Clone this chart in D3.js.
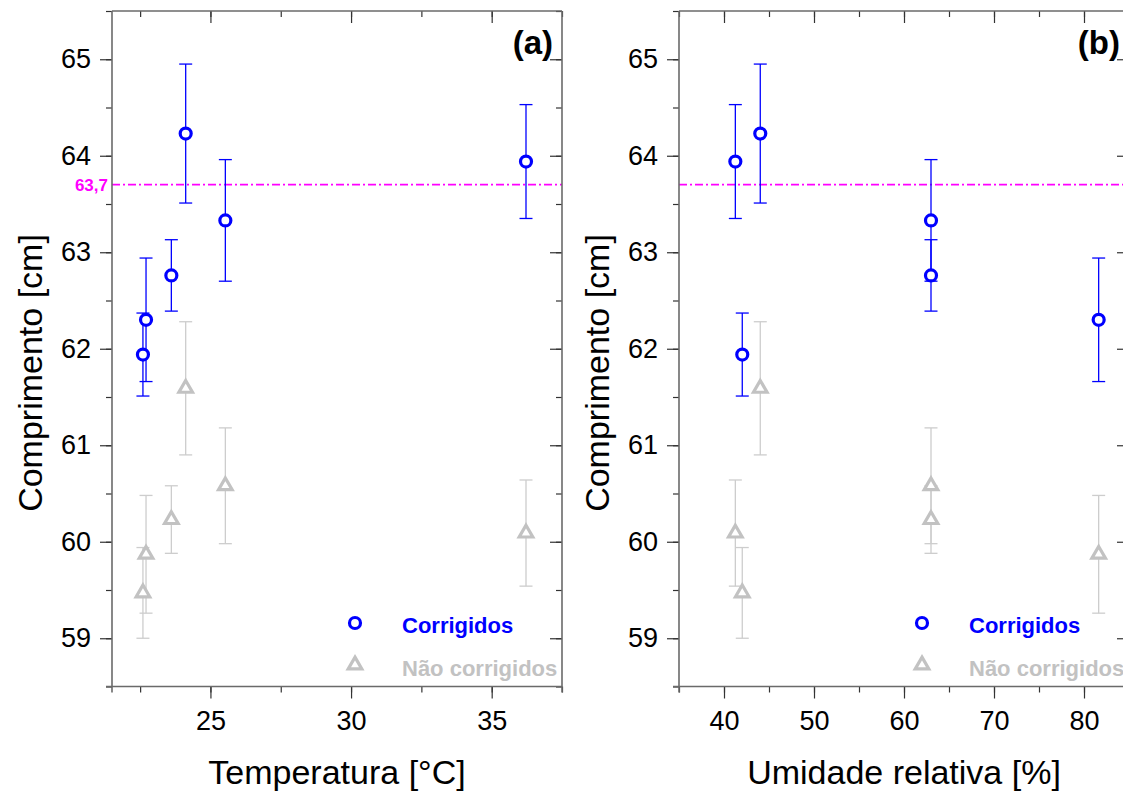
<!DOCTYPE html>
<html>
<head>
<meta charset="utf-8">
<script src="https://cdn.jsdelivr.net/npm/d3@7"></script>
<style>
  body { margin: 0; background: #fff; }
  svg text { font-family: Arial, "Liberation Sans", sans-serif; }
</style>
</head>
<body>
<div id="chart"></div>
<script>
// measurements (same 6 runs, two views)
const temperatura = [22.6, 22.71, 23.61, 24.12, 25.53, 36.22];
const umidade = [42.03, 81.63, 63.0, 44.03, 63.0, 41.26];
const corrigidos = [61.94, 62.30, 62.76, 64.23, 63.33, 63.94];
const errCorrigidos = [0.43, 0.64, 0.37, 0.72, 0.63, 0.59];
const naoCorrigidos = [59.47, 59.87, 60.23, 61.59, 60.58, 60.09];
const errNaoCorrigidos = [0.47, 0.61, 0.35, 0.69, 0.60, 0.55];
const valorRef = 63.7;
const valorRefLabel = "63,7";

const yTicks = [59, 60, 61, 62, 63, 64, 65];
const yMinor = d3.range(58.5, 65.51, 0.5);
const tempTicks = [25, 30, 35];
const tempMinor = d3.range(22.5, 37.6, 2.5);
const umidTicks = [40, 50, 60, 70, 80];
const umidMinor = d3.range(35, 85.1, 5);

const width = 1123, height = 792;
const plotTop = 11, plotBottom = 686.5;
const blue = "#0000ff", gray = "#c2c2c2", grayBar = "#cdcdcd", magenta = "#ff00ff";

const svg = d3.select("#chart").append("svg")
    .attr("width", width)
    .attr("height", height);

const y = d3.scaleLinear().domain([58.5, 65.5]).range([plotBottom, plotTop]);

function drawPanel(opts) {
    const x = d3.scaleLinear().domain(opts.domain).range([opts.left, opts.left + 450]);
    const g = svg.append("g");
    const right = opts.left + 450;

    // reference line
    g.append("line")
        .attr("x1", opts.left).attr("x2", right)
        .attr("y1", y(valorRef)).attr("y2", y(valorRef))
        .attr("stroke", magenta).attr("stroke-width", 1.8)
        .attr("stroke-dasharray", "8,3,2,3");

    // axes
    const fmt = d3.format("d");
    const axes = [
        { a: d3.axisLeft(y).tickValues(yTicks).tickSize(12).tickPadding(9).tickFormat(fmt), t: `translate(${opts.left},0)` },
        { a: d3.axisLeft(y).tickValues(yMinor).tickSize(6).tickFormat(""), t: `translate(${opts.left},0)` },
        { a: d3.axisLeft(y).tickValues(yTicks).tickSize(12).tickFormat(""), t: `translate(${right},0)` },
        { a: d3.axisLeft(y).tickValues(yMinor).tickSize(6).tickFormat(""), t: `translate(${right},0)` },
        { a: d3.axisBottom(x).tickValues(opts.ticks).tickSize(12).tickPadding(12).tickFormat(fmt), t: `translate(0,${plotBottom})` },
        { a: d3.axisBottom(x).tickValues(opts.minor).tickSize(6).tickFormat(""), t: `translate(0,${plotBottom})` },
        { a: d3.axisBottom(x).tickValues(opts.ticks).tickSize(12).tickFormat(""), t: `translate(0,${plotTop})` },
        { a: d3.axisBottom(x).tickValues(opts.minor).tickSize(6).tickFormat(""), t: `translate(0,${plotTop})` }
    ];
    axes.forEach(ax => {
        const ag = g.append("g").attr("transform", ax.t).call(ax.a);
        ag.select(".domain").remove();
        ag.selectAll(".tick line").attr("stroke", "#333").attr("stroke-width", 1.2);
        ag.selectAll(".tick text").attr("font-size", 27).attr("fill", "#000")
            .style("font-family", "Arial, 'Liberation Sans', sans-serif");
    });

    // frame
    const frame = [
        [opts.left, plotTop, opts.left, plotBottom + 6],
        [opts.left - 6, plotBottom, right, plotBottom],
        [opts.left, plotTop, right, plotTop],
        [right, plotTop, right, plotBottom + 6]
    ];
    g.selectAll(".frame").data(frame).enter().append("line")
        .attr("x1", d => d[0]).attr("y1", d => d[1])
        .attr("x2", d => d[2]).attr("y2", d => d[3])
        .attr("stroke", "#6a6a6a").attr("stroke-width", 1.6);

    // series
    const series = [
        { vals: naoCorrigidos, err: errNaoCorrigidos, color: gray, bar: grayBar, shape: "tri" },
        { vals: corrigidos, err: errCorrigidos, color: blue, bar: blue, shape: "circle" }
    ];
    const tri = d3.symbol().type(d3.symbolTriangle).size(80);

    series.forEach(s => {
        const pts = opts.xs.map((xv, i) => ({ x: xv, v: s.vals[i], e: s.err[i] }));
        const eb = g.append("g");
        eb.selectAll(".v").data(pts).enter().append("line")
            .attr("x1", d => x(d.x)).attr("x2", d => x(d.x))
            .attr("y1", d => y(d.v - d.e)).attr("y2", d => y(d.v + d.e))
            .attr("stroke", s.bar).attr("stroke-width", 1.3);
        [-1, 1].forEach(sign => {
            eb.selectAll(".c" + sign).data(pts).enter().append("line")
                .attr("x1", d => x(d.x) - 6.5).attr("x2", d => x(d.x) + 6.5)
                .attr("y1", d => y(d.v + sign * d.e)).attr("y2", d => y(d.v + sign * d.e))
                .attr("stroke", s.bar).attr("stroke-width", 1.3);
        });
        if (s.shape === "circle") {
            g.selectAll(".pc").data(pts).enter().append("circle")
                .attr("cx", d => x(d.x)).attr("cy", d => y(d.v)).attr("r", 5.5)
                .attr("fill", "#fff").attr("stroke", s.color).attr("stroke-width", 3.2);
        } else {
            g.selectAll(".pt").data(pts).enter().append("path")
                .attr("d", tri)
                .attr("transform", d => `translate(${x(d.x)},${y(d.v)})`)
                .attr("fill", "#fff").attr("stroke", s.color).attr("stroke-width", 3.2)
                .attr("stroke-linejoin", "miter");
        }
    });

    // legend
    const lx = opts.left + 243;
    g.append("circle").attr("cx", lx).attr("cy", 623).attr("r", 5.5)
        .attr("fill", "#fff").attr("stroke", blue).attr("stroke-width", 3.2);
    g.append("text").attr("x", lx + 47).attr("y", 633)
        .attr("font-size", 22).attr("font-weight", "bold").attr("fill", blue)
        .text("Corrigidos");
    g.append("path").attr("d", tri).attr("transform", `translate(${lx},665)`)
        .attr("fill", "#fff").attr("stroke", gray).attr("stroke-width", 3.2);
    g.append("text").attr("x", lx + 47).attr("y", 676)
        .attr("font-size", 22).attr("font-weight", "bold").attr("fill", gray)
        .text("Não corrigidos");

    // panel letter
    g.append("text").attr("x", right - 9).attr("y", 54)
        .attr("text-anchor", "end").attr("font-size", 33).attr("font-weight", "bold")
        .text(opts.letter);

    // titles
    g.append("text")
        .attr("transform", `translate(${opts.left - 70},373) rotate(-90)`)
        .attr("text-anchor", "middle").attr("font-size", 34)
        .text("Comprimento [cm]");
    g.append("text")
        .attr("x", opts.left + 225).attr("y", 784)
        .attr("text-anchor", "middle").attr("font-size", 34)
        .text(opts.title);

    if (opts.refLabel) {
        g.append("text")
            .attr("x", opts.left - 4).attr("y", y(valorRef) + 6)
            .attr("text-anchor", "end").attr("font-size", 17).attr("font-weight", "bold")
            .attr("fill", magenta).text(valorRefLabel);
    }
}

drawPanel({ left: 112, domain: [21.5, 37.5], xs: temperatura, ticks: tempTicks, minor: tempMinor,
    letter: "(a)", title: "Temperatura [°C]", refLabel: true });
drawPanel({ left: 679, domain: [35, 85], xs: umidade, ticks: umidTicks, minor: umidMinor,
    letter: "(b)", title: "Umidade relativa [%]", refLabel: false });
</script>
</body>
</html>
